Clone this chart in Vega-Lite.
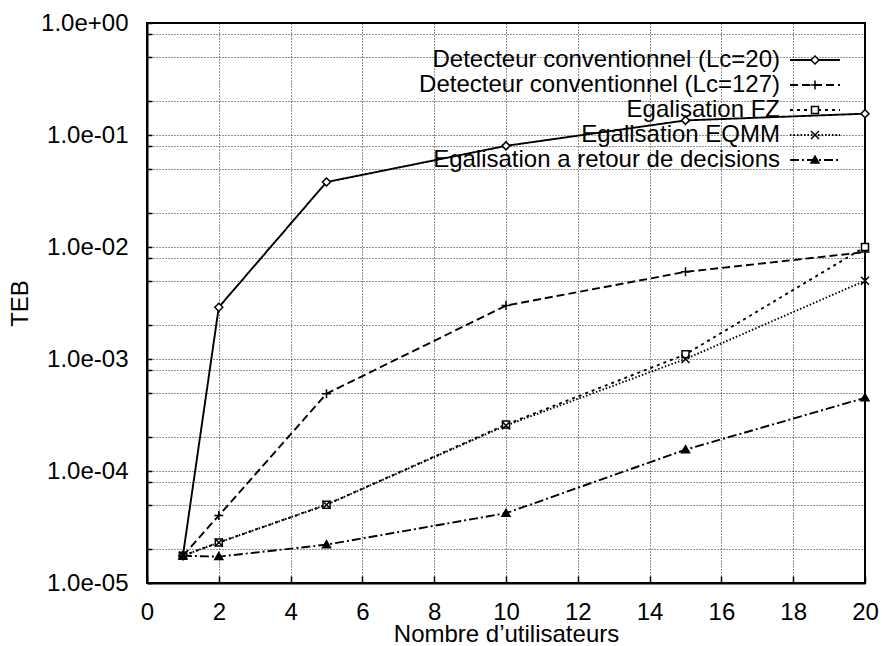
{
  "$schema": "https://vega.github.io/schema/vega-lite/v6.json",
  "width": 718,
  "height": 560,
  "autosize": {"type": "none"},
  "padding": {"left": 147, "top": 23, "right": 17, "bottom": 63},
  "background": "white",
  "config": {
    "font": "Liberation Sans",
    "view": {"stroke": "black", "strokeWidth": 2},
    "axis": {
      "labelFont": "Liberation Sans",
      "labelFontSize": 24,
      "labelColor": "black",
      "labelFlush": false,
      "titleFont": "Liberation Sans",
      "titleFontSize": 24,
      "titleFontWeight": "normal",
      "titleColor": "black",
      "domainColor": "black",
      "domainWidth": 2,
      "tickColor": "black",
      "tickWidth": 1.5,
      "grid": true,
      "gridColor": "black",
      "gridDash": [1, 2],
      "gridWidth": 1,
      "gridOpacity": 0.85
    },
    "legend": {
      "labelFont": "Liberation Sans",
      "labelFontSize": 24,
      "labelColor": "black",
      "padding": 0
    }
  },
  "data": {
    "values": [
      {"serie": "Detecteur conventionnel (Lc=20)", "x": 1, "teb": 1.75e-5},
      {"serie": "Detecteur conventionnel (Lc=20)", "x": 2, "teb": 2.9e-3},
      {"serie": "Detecteur conventionnel (Lc=20)", "x": 5, "teb": 3.8e-2},
      {"serie": "Detecteur conventionnel (Lc=20)", "x": 10, "teb": 8.0e-2},
      {"serie": "Detecteur conventionnel (Lc=20)", "x": 15, "teb": 1.35e-1},
      {"serie": "Detecteur conventionnel (Lc=20)", "x": 20, "teb": 1.55e-1},
      {"serie": "Detecteur conventionnel (Lc=127)", "x": 1, "teb": 1.75e-5},
      {"serie": "Detecteur conventionnel (Lc=127)", "x": 2, "teb": 4.0e-5},
      {"serie": "Detecteur conventionnel (Lc=127)", "x": 5, "teb": 4.9e-4},
      {"serie": "Detecteur conventionnel (Lc=127)", "x": 10, "teb": 3.0e-3},
      {"serie": "Detecteur conventionnel (Lc=127)", "x": 15, "teb": 6.0e-3},
      {"serie": "Detecteur conventionnel (Lc=127)", "x": 20, "teb": 9.0e-3},
      {"serie": "Egalisation FZ", "x": 1, "teb": 1.75e-5},
      {"serie": "Egalisation FZ", "x": 2, "teb": 2.3e-5},
      {"serie": "Egalisation FZ", "x": 5, "teb": 5.0e-5},
      {"serie": "Egalisation FZ", "x": 10, "teb": 2.6e-4},
      {"serie": "Egalisation FZ", "x": 15, "teb": 1.1e-3},
      {"serie": "Egalisation FZ", "x": 20, "teb": 1.0e-2},
      {"serie": "Egalisation EQMM", "x": 1, "teb": 1.75e-5},
      {"serie": "Egalisation EQMM", "x": 2, "teb": 2.3e-5},
      {"serie": "Egalisation EQMM", "x": 5, "teb": 5.0e-5},
      {"serie": "Egalisation EQMM", "x": 10, "teb": 2.55e-4},
      {"serie": "Egalisation EQMM", "x": 15, "teb": 1.0e-3},
      {"serie": "Egalisation EQMM", "x": 20, "teb": 5.0e-3},
      {"serie": "Egalisation a retour de decisions", "x": 1, "teb": 1.75e-5},
      {"serie": "Egalisation a retour de decisions", "x": 2, "teb": 1.72e-5},
      {"serie": "Egalisation a retour de decisions", "x": 5, "teb": 2.2e-5},
      {"serie": "Egalisation a retour de decisions", "x": 10, "teb": 4.2e-5},
      {"serie": "Egalisation a retour de decisions", "x": 15, "teb": 1.55e-4},
      {"serie": "Egalisation a retour de decisions", "x": 20, "teb": 4.5e-4}
    ]
  },
  "layer": [
    {
      "mark": {"type": "line", "color": "black", "strokeWidth": 1.9},
      "encoding": {
        "x": {
          "field": "x", "type": "quantitative",
          "scale": {"domain": [0, 20], "nice": false},
          "axis": {
            "values": [0, 2, 4, 6, 8, 10, 12, 14, 16, 18, 20],
            "title": "Nombre d’utilisateurs",
            "tickSize": -7,
            "labelPadding": 24,
            "titlePadding": -2
          }
        },
        "y": {
          "field": "teb", "type": "quantitative",
          "scale": {"type": "log", "domain": [1e-5, 1], "nice": false},
          "axis": {
            "values": [1e-5, 2e-5, 5e-5, 8e-5, 1e-4, 2e-4, 5e-4, 8e-4, 1e-3, 2e-3, 5e-3, 8e-3, 1e-2, 2e-2, 5e-2, 8e-2, 1e-1, 2e-1, 5e-1, 8e-1, 1],
            "labelExpr": "abs(log(datum.value)/LN10 - round(log(datum.value)/LN10)) < 1e-6 ? ('1.0e' + (datum.value >= 1 ? '+00' : '-0' + round(-log(datum.value)/LN10))) : ''",
            "title": "TEB",
            "tickSize": -5,
            "labelPadding": 24,
            "titlePadding": 8
          }
        },
        "strokeDash": {
          "field": "serie", "type": "nominal",
          "scale": {
            "domain": ["Detecteur conventionnel (Lc=20)", "Detecteur conventionnel (Lc=127)", "Egalisation FZ", "Egalisation EQMM", "Egalisation a retour de decisions"],
            "range": [[1, 0], [8, 4], [3, 4], [1.5, 2], [9, 3, 2, 3]]
          },
          "legend": {
            "orient": "none",
            "legendX": 656,
            "legendY": 25,
            "title": null,
            "symbolType": "M-5,0H5",
            "symbolSize": 100,
            "symbolStrokeWidth": 1.9,
            "symbolStrokeColor": "black",
            "labelAlign": "right",
            "labelOffset": -47,
            "labelLimit": 0,
            "rowPadding": 1
          }
        }
      }
    },
    {
      "mark": {"type": "point", "filled": false, "stroke": "black", "strokeWidth": 1.5, "opacity": 1, "size": 100},
      "encoding": {
        "x": {"field": "x", "type": "quantitative"},
        "y": {"field": "teb", "type": "quantitative"},
        "shape": {
          "field": "serie", "type": "nominal",
          "sort": ["Detecteur conventionnel (Lc=20)", "Detecteur conventionnel (Lc=127)", "Egalisation FZ", "Egalisation EQMM", "Egalisation a retour de decisions"],
          "scale": {
            "range": ["M0,-0.8L0.8,0L0,0.8L-0.8,0Z", "M-0.9,0H0.9M0,-0.9V0.9", "M-0.7,-0.7H0.7V0.7H-0.7Z", "M-0.8,-0.8L0.8,0.8M-0.8,0.8L0.8,-0.8", "M0,-0.8L0.8,0.6H-0.8Z"]
          },
          "legend": {
            "orient": "none",
            "legendX": 656,
            "legendY": 25,
            "title": null,
            "symbolSize": 100,
            "symbolStrokeColor": "black",
            "symbolStrokeWidth": 1.5,
            "symbolFillColor": {"expr": "datum.value === 'Egalisation a retour de decisions' ? 'black' : ((datum.value === 'Detecteur conventionnel (Lc=20)' || datum.value === 'Egalisation FZ') ? 'white' : 'transparent')"},
            "labelExpr": "''",
            "rowPadding": 1
          }
        },
        "fill": {
          "field": "serie", "type": "nominal",
          "sort": ["Detecteur conventionnel (Lc=20)", "Detecteur conventionnel (Lc=127)", "Egalisation FZ", "Egalisation EQMM", "Egalisation a retour de decisions"],
          "scale": {"range": ["white", "transparent", "white", "transparent", "black"]},
          "legend": null
        }
      }
    }
  ]
}
